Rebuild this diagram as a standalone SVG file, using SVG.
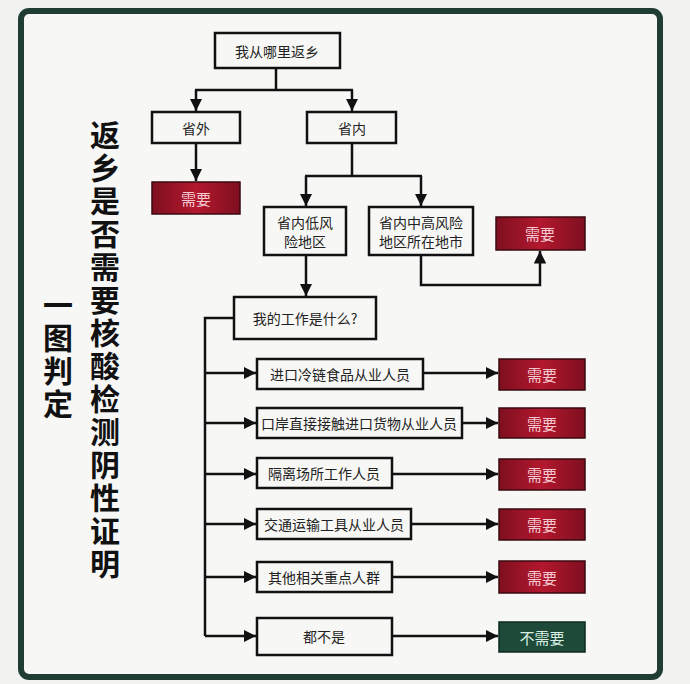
<svg xmlns="http://www.w3.org/2000/svg" width="690" height="684" viewBox="0 0 690 684">
<defs>
<marker id="ah" viewBox="0 0 10 10" refX="10" refY="5" markerWidth="5" markerHeight="5" orient="auto-start-reverse"><path d="M0,0L10,5L0,10z" fill="#111"/></marker>
<linearGradient id="rg" x1="0" x2="1"><stop offset="0" stop-color="#7e0f1f"/><stop offset="0.5" stop-color="#b3182e"/><stop offset="1" stop-color="#7e0f1f"/></linearGradient>
</defs>
<style>
.b{fill:#f7f7f5;stroke:#111;stroke-width:2.5}
.r{fill:url(#rg);stroke:#3a0a10;stroke-width:1.5}
.g{fill:#1e4a3a;stroke:#0f2a20;stroke-width:1.5}
text{font-family:"Noto Sans CJK SC","Noto Sans",sans-serif;text-anchor:middle;dominant-baseline:central}
.t{font-size:14px;fill:#222}
.w{font-size:15px;fill:#f4c8d0}
.gw{font-size:15px;fill:#d8eee2}
.h{font-size:30px;font-weight:bold;fill:#111;writing-mode:vertical-rl;text-anchor:start;letter-spacing:3px}
.c{fill:none;stroke:#111;stroke-width:2.5}
</style>
<rect width="690" height="684" fill="#f2f3f1"/>
<rect x="21" y="11" width="639" height="666" rx="8" fill="#f7f7f6" stroke="#1f3d33" stroke-width="6"/>
<g id="title">
<text class="h" x="105" y="120">返乡是否需要核酸检测阴性证明</text>
<text class="h" x="58" y="290">一图判定</text>
</g>
<g id="connectors">
<path class="c" d="M276,68V90M195,90H353" />
<path class="c" d="M196,90V111" marker-end="url(#ah)"/>
<path class="c" d="M352,90V111" marker-end="url(#ah)"/>
<path class="c" d="M196,143V181" marker-end="url(#ah)"/>
<path class="c" d="M352,143V176M305,176H422"/>
<path class="c" d="M306,176V206" marker-end="url(#ah)"/>
<path class="c" d="M421,176V206" marker-end="url(#ah)"/>
<path class="c" d="M306,255V296" marker-end="url(#ah)"/>
<path class="c" d="M421,255V285H540V251" marker-end="url(#ah)"/>
<path class="c" d="M234,318H205V636"/>
<path class="c" d="M205,373H256" marker-end="url(#ah)"/><path class="c" d="M423,373H498" marker-end="url(#ah)"/>
<path class="c" d="M205,423H256" marker-end="url(#ah)"/><path class="c" d="M462,423H498" marker-end="url(#ah)"/>
<path class="c" d="M205,474H256" marker-end="url(#ah)"/><path class="c" d="M392,474H498" marker-end="url(#ah)"/>
<path class="c" d="M205,524H256" marker-end="url(#ah)"/><path class="c" d="M411,524H498" marker-end="url(#ah)"/>
<path class="c" d="M205,577H256" marker-end="url(#ah)"/><path class="c" d="M392,577H498" marker-end="url(#ah)"/>
<path class="c" d="M205,636H256" marker-end="url(#ah)"/><path class="c" d="M392,636H498" marker-end="url(#ah)"/>
</g>
<g id="n-start"><rect class="b" x="215" y="33" width="125" height="35"/><text class="t" x="277" y="51">我从哪里返乡</text></g>
<g id="n-out"><rect class="b" x="152" y="112" width="88" height="31"/><text class="t" x="196" y="128">省外</text></g>
<g id="n-in"><rect class="b" x="307" y="112" width="89" height="31"/><text class="t" x="352" y="128">省内</text></g>
<g id="n-need0"><rect class="r" x="152" y="182" width="88" height="32"/><text class="w" x="196" y="198">需要</text></g>
<g id="n-low"><rect class="b" x="264" y="207" width="82" height="48"/><text class="t" x="305" y="222">省内低风</text><text class="t" x="305" y="241">险地区</text></g>
<g id="n-high"><rect class="b" x="369" y="207" width="104" height="48"/><text class="t" x="421" y="222">省内中高风险</text><text class="t" x="421" y="241">地区所在地市</text></g>
<g id="n-need1"><rect class="r" x="496" y="217" width="89" height="33"/><text class="w" x="540" y="233">需要</text></g>
<g id="n-job"><rect class="b" x="234" y="297" width="142" height="42"/><text class="t" x="305" y="318">我的工作是什么?</text></g>
<g id="n-j1"><rect class="b" x="257" y="359" width="166" height="30"/><text class="t" x="340" y="374">进口冷链食品从业人员</text></g>
<g id="n-j2"><rect class="b" x="257" y="408" width="205" height="30"/><text class="t" x="359" y="423">口岸直接接触进口货物从业人员</text></g>
<g id="n-j3"><rect class="b" x="257" y="458" width="135" height="30"/><text class="t" x="324" y="473">隔离场所工作人员</text></g>
<g id="n-j4"><rect class="b" x="257" y="509" width="154" height="30"/><text class="t" x="334" y="524">交通运输工具从业人员</text></g>
<g id="n-j5"><rect class="b" x="257" y="562" width="135" height="30"/><text class="t" x="324" y="577">其他相关重点人群</text></g>
<g id="n-j6"><rect class="b" x="257" y="618" width="135" height="37"/><text class="t" x="324" y="636">都不是</text></g>
<g id="n-r1"><rect class="r" x="499" y="359" width="86" height="31"/><text class="w" x="542" y="374">需要</text></g>
<g id="n-r2"><rect class="r" x="499" y="408" width="86" height="30"/><text class="w" x="542" y="423">需要</text></g>
<g id="n-r3"><rect class="r" x="499" y="459" width="86" height="31"/><text class="w" x="542" y="474">需要</text></g>
<g id="n-r4"><rect class="r" x="499" y="509" width="86" height="31"/><text class="w" x="542" y="524">需要</text></g>
<g id="n-r5"><rect class="r" x="499" y="561" width="86" height="32"/><text class="w" x="542" y="577">需要</text></g>
<g id="n-r6"><rect class="g" x="499" y="622" width="86" height="30"/><text class="gw" x="542" y="637">不需要</text></g>
</svg>
